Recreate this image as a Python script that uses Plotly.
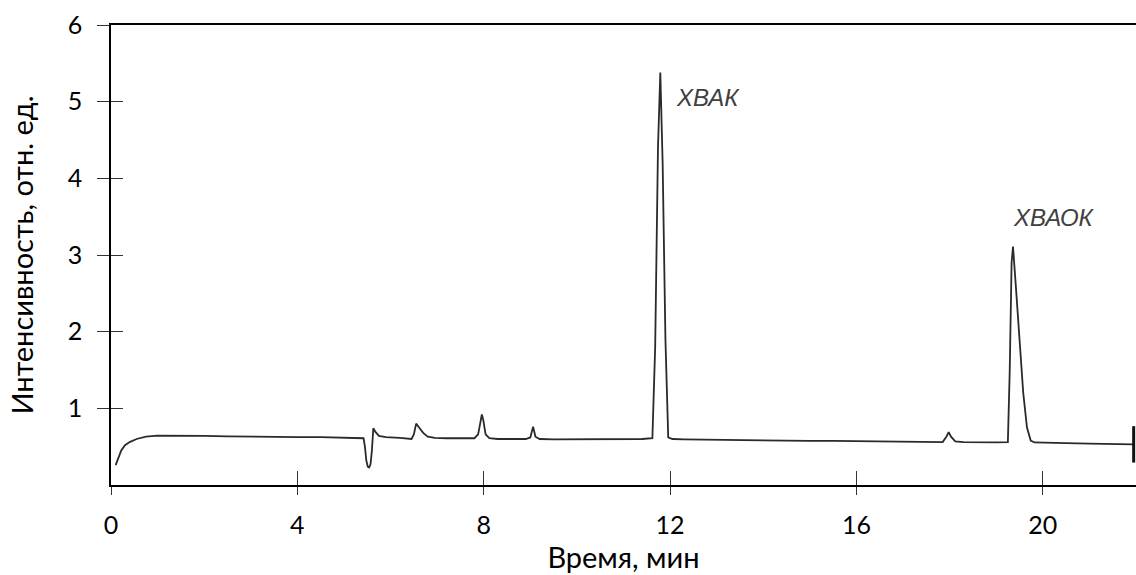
import plotly.graph_objects as go

time_min = [0.10, 0.15, 0.22, 0.30, 0.40, 0.55, 0.75, 1.0, 1.5, 2.0, 2.5, 3.0, 3.5, 4.0, 4.5, 5.0,
            5.35, 5.42, 5.45, 5.48, 5.51, 5.54, 5.57, 5.60, 5.63, 5.68, 5.75, 5.9, 6.2, 6.45, 6.50, 6.55,
            6.60, 6.70, 6.80, 6.95, 7.2, 7.5, 7.8, 7.88, 7.93, 7.96, 7.99, 8.04, 8.12, 8.3, 8.6, 8.9, 9.0,
            9.06, 9.11, 9.2, 9.5, 10.0, 10.5, 11.0, 11.4, 11.62, 11.68, 11.74, 11.79, 11.84, 11.90,
            11.96, 12.05, 12.3, 12.8, 13.5, 14.0, 14.5, 15.0, 15.5, 16.0, 16.5, 17.0, 17.5, 17.85,
            17.93, 17.98, 18.03, 18.12, 18.3, 18.6, 19.0, 19.25, 19.29, 19.33, 19.36, 19.42, 19.50,
            19.58, 19.66, 19.74, 19.82, 20.0, 20.5, 21.0, 21.5, 21.95]
intensity = [0.26, 0.33, 0.45, 0.52, 0.56, 0.60, 0.63, 0.645, 0.645, 0.64, 0.635, 0.63, 0.63, 0.625, 0.625, 0.62,
             0.615, 0.61, 0.50, 0.32, 0.24, 0.23, 0.27, 0.45, 0.74, 0.69, 0.64, 0.625, 0.615, 0.60, 0.66, 0.80,
             0.76, 0.68, 0.63, 0.615, 0.61, 0.61, 0.61, 0.66, 0.85, 0.92, 0.85, 0.66, 0.61, 0.60, 0.60, 0.60, 0.62,
             0.76, 0.63, 0.60, 0.595, 0.595, 0.60, 0.60, 0.60, 0.61, 1.8, 4.4, 5.38, 4.2, 1.9,
             0.62, 0.60, 0.595, 0.59, 0.585, 0.58, 0.58, 0.575, 0.575, 0.57, 0.565, 0.565, 0.56, 0.56,
             0.63, 0.69, 0.63, 0.57, 0.56, 0.555, 0.555, 0.56, 1.5, 2.9, 3.11, 2.6, 1.9,
             1.2, 0.75, 0.58, 0.555, 0.55, 0.545, 0.54, 0.535, 0.53]

peak_labels = ["ХВАК", "ХВАОК"]
peak_label_x = [12.81, 20.24]
peak_label_y = [5.05, 3.49]

x_ticks = [0, 4, 8, 12, 16, 20]
y_ticks = [1, 2, 3, 4, 5, 6]

FONT = "Lato"

fig = go.Figure()
fig.add_trace(go.Scatter(x=time_min, y=intensity, mode="lines",
                         line=dict(color="#2a2a2a", width=1.8), showlegend=False))
# end-of-run marker
fig.add_trace(go.Scatter(x=[time_min[-1]], y=[intensity[-1]], mode="markers",
                         marker=dict(symbol="line-ns-open", size=26, color="#111",
                                     line=dict(color="#111", width=3)),
                         cliponaxis=False, showlegend=False))

for txt, xx, yy in zip(peak_labels, peak_label_x, peak_label_y):
    fig.add_annotation(x=xx, y=yy, text="<i>" + txt + "</i>", showarrow=False,
                       font=dict(family="Liberation Sans", size=24, color="#404040"))

axis_common = dict(showgrid=False, zeroline=False, linecolor="black", linewidth=1.5,
                   tickcolor="#333", tickwidth=1.2)

fig.update_layout(
    width=1136, height=575,
    margin=dict(l=111, r=0, t=25, b=90),
    paper_bgcolor="white", plot_bgcolor="white",
    font=dict(family=FONT, size=25, color="black"),
    xaxis=dict(range=[0, 22.0], tickvals=x_ticks, ticks="outside", ticklen=8,
               showline=True, mirror=True, ticklabelstandoff=9,
               title=dict(text="Время, мин", font=dict(family=FONT, size=29), standoff=9),
               **axis_common),
    yaxis=dict(range=[0, 6], tickvals=y_ticks, ticks="outside", ticklen=12,
               showline=True, ticklabelstandoff=10,
               title=dict(text="Интенсивность, отн. ед.", font=dict(family=FONT, size=29), standoff=26),
               **axis_common),
    xaxis2=dict(range=[0, 22.0], tickvals=x_ticks, ticks="inside", ticklen=14,
                showticklabels=False, overlaying="x", matches="x", showline=False,
                showgrid=False, zeroline=False, tickcolor="#333", tickwidth=1.2),
    yaxis2=dict(range=[0, 6], tickvals=y_ticks, ticks="inside", ticklen=12,
                showticklabels=False, overlaying="y", matches="y", showline=False,
                showgrid=False, zeroline=False, tickcolor="#333", tickwidth=1.2),
)
# invisible trace to activate secondary axes
fig.add_trace(go.Scatter(x=[time_min[0]], y=[intensity[0]], xaxis="x2", yaxis="y2",
                         mode="markers", marker=dict(opacity=0), hoverinfo="skip", showlegend=False))

fig.write_html("out.html")
